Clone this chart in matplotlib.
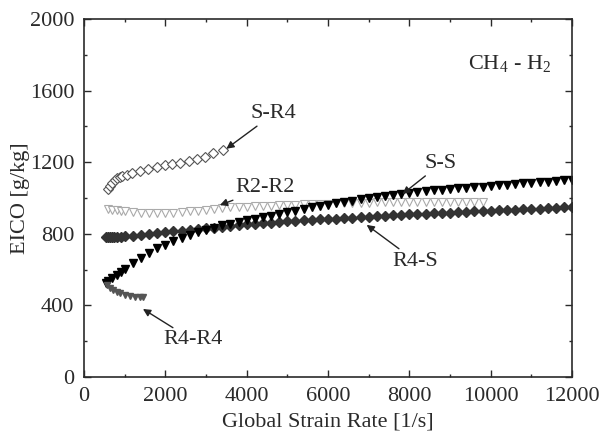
### RECREATE THE EICO VS GLOBAL STRAIN RATE PLOT
### IMPORT LIBRARIES ###
import matplotlib
matplotlib.use('Agg')
import matplotlib.pyplot as plt
from matplotlib.ticker import MultipleLocator

### DATA ###
# S-R4 (open diamonds)
sr4_x = [580, 640, 700, 760, 820, 880, 940, 1050, 1170, 1380, 1580, 1790, 1990,
         2160, 2360, 2570, 2770, 2980, 3180, 3420]
sr4_y = [1050, 1066, 1082, 1098, 1110, 1118, 1124, 1130, 1138, 1149, 1162, 1175,
         1183, 1190, 1197, 1206, 1218, 1231, 1250, 1268]

# R2-R2 (open light grey triangles)
r2r2_x = [600, 700, 800, 900, 1000, 1200, 1400, 1600, 1800, 2000, 2200, 2400,
          2600, 2800, 3000, 3200, 3400, 3600, 3800, 4000, 4200, 4400, 4600,
          4800, 5000, 5200, 5400, 5600, 5800, 6000, 6200, 6400, 6600, 6800,
          7000, 7200, 7400, 7600, 7800, 8000, 8200, 8400, 8600, 8800, 9000,
          9200, 9400, 9600, 9800]
r2r2_y = [938, 935, 932, 929, 926, 922, 919, 917, 916, 916, 918, 921, 925, 930,
          935, 940, 944, 947, 950, 952, 954, 956, 958, 960, 961, 963, 964, 966,
          967, 968, 970, 971, 972, 973, 974, 975, 975, 976, 976, 977, 977, 977,
          977, 977, 977, 977, 977, 977, 976]

# S-S (filled black triangles)
ss_x = [550, 600, 700, 800, 900, 1000, 1200, 1400, 1600, 1800, 2000, 2200, 2400,
        2600, 2800, 3000, 3200, 3400, 3600, 3800, 4000, 4200, 4400, 4600, 4800,
        5000, 5200, 5400, 5600, 5800, 6000, 6200, 6400, 6600, 6800, 7000, 7200,
        7400, 7600, 7800, 8000, 8200, 8400, 8600, 8800, 9000, 9200, 9400, 9600,
        9800, 10000, 10200, 10400, 10600, 10800, 11000, 11200, 11400, 11600,
        11800, 12000]
ss_y = [527, 535, 553, 570, 588, 604, 636, 666, 694, 720, 740, 758, 775, 792,
        808, 822, 835, 848, 857, 866, 875, 884, 893, 902, 912, 921, 930, 939,
        947, 955, 963, 970, 977, 985, 992, 1000, 1006, 1012, 1018, 1024, 1030,
        1034, 1038, 1042, 1046, 1050, 1054, 1057, 1061, 1064, 1068, 1071, 1075,
        1078, 1082, 1085, 1088, 1092, 1095, 1098, 1102]

# R4-S (filled dark diamonds)
r4s_x = [550, 600, 650, 700, 750, 800, 900, 1000, 1200, 1400, 1600, 1800, 2000,
         2200, 2400, 2600, 2800, 3000, 3200, 3400, 3600, 3800, 4000, 4200, 4400,
         4600, 4800, 5000, 5200, 5400, 5600, 5800, 6000, 6200, 6400, 6600, 6800,
         7000, 7200, 7400, 7600, 7800, 8000, 8200, 8400, 8600, 8800, 9000, 9200,
         9400, 9600, 9800, 10000, 10200, 10400, 10600, 10800, 11000, 11200,
         11400, 11600, 11800, 12000]
r4s_y = [782, 782, 782, 783, 783, 783, 784, 785, 788, 793, 798, 803, 808, 813,
         818, 822, 827, 831, 835, 839, 843, 848, 852, 857, 860, 863, 867, 870,
         873, 875, 878, 880, 882, 885, 887, 890, 893, 896, 898, 901, 903, 906,
         908, 911, 913, 915, 917, 919, 921, 923, 925, 927, 929, 931, 933, 935,
         937, 939, 941, 943, 945, 947, 949]

# R4-R4 (filled grey triangles)
r4r4_x = [560, 640, 720, 800, 885, 1010, 1130, 1250, 1380, 1460]
r4r4_y = [515, 495, 486, 477, 468, 458, 452, 449, 445, 445]

# labels: (text, text position, arrow head)
labels = [
    ('S-R4', (4100, 1470), (3500, 1275)),
    ('R2-R2', (3730, 1056), (3340, 960)),
    ('S-S', (8380, 1192), (7830, 1022)),
    ('R4-S', (7590, 648), (6950, 850)),
    ('R4-R4', (1940, 207), (1450, 380)),
]

### PLOT ###
grey = '#2a2a2a'
plt.rcParams['font.family'] = ['Liberation Serif', 'DejaVu Serif']
plt.rcParams['mathtext.fontset'] = 'custom'
plt.rcParams['mathtext.rm'] = 'Liberation Serif'
plt.rcParams['font.size'] = 16
plt.rcParams['text.color'] = grey

fig = plt.figure(figsize=(5.99, 4.32), dpi=100)
ax = fig.add_axes([0.1402, 0.1273, 0.8148, 0.8287])

ax.plot(r2r2_x, r2r2_y, 'v', ms=5.5, mfc='white', mec='#aaaaaa', mew=0.8, ls='none')
ax.plot(r4s_x, r4s_y, 'D', ms=5, mfc='#333333', mec='#333333', ls='none')
ax.plot(ss_x, ss_y, 'v', ms=5.5, mfc='black', mec='black', ls='none')
ax.plot(r4r4_x, r4r4_y, 'v', ms=4.5, mfc='#555555', mec='#555555', ls='none')
ax.plot(sr4_x, sr4_y, 'D', ms=5.5, mfc='white', mec='#555555', mew=0.8, ls='none')

for text, xy_text, xy_head in labels:
    ax.annotate(text, xy=xy_head, xytext=xy_text, ha='left', va='center',
                color=grey, fontsize=16,
                arrowprops=dict(arrowstyle='-|>', color='#222222', lw=1.0,
                                mutation_scale=11, shrinkA=0, shrinkB=0))

ax.text(9440, 1750, 'CH$_4$ - H$_2$', ha='left', va='center', color=grey, fontsize=16)

ax.set_xlim(0, 12000)
ax.set_ylim(0, 2000)
ax.xaxis.set_major_locator(MultipleLocator(2000))
ax.xaxis.set_minor_locator(MultipleLocator(1000))
ax.yaxis.set_major_locator(MultipleLocator(400))
ax.yaxis.set_minor_locator(MultipleLocator(200))
ax.tick_params(which='both', direction='in', top=True, right=True, colors=grey,
               labelcolor=grey, width=1.0)
ax.tick_params(which='major', length=5, pad=7)
ax.tick_params(which='minor', length=2.5)
for s in ax.spines.values():
    s.set_color(grey)
    s.set_linewidth(1.2)

ax.set_xlabel('Global Strain Rate [1/s]', color=grey, labelpad=5)
ax.set_ylabel('EICO [g/kg]', color=grey, labelpad=0)

fig.savefig('out.png', dpi=100)
